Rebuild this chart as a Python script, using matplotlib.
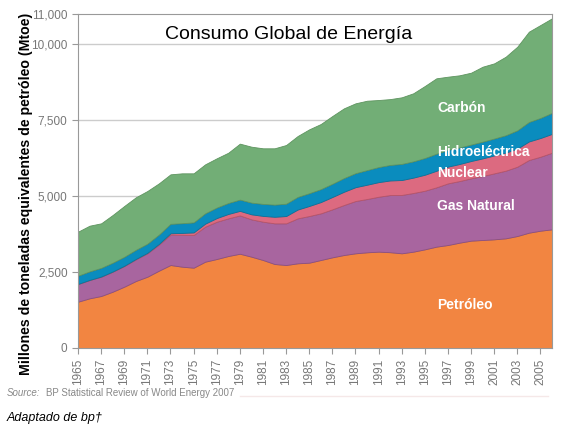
import matplotlib
matplotlib.use("Agg")
import matplotlib.pyplot as plt
import numpy as np

years = list(range(1965, 2007))

petroleo = [1523, 1634, 1710, 1852, 2017, 2203, 2345, 2543, 2729, 2674, 2641, 2839, 2927, 3025,
            3100, 3003, 2894, 2762, 2729, 2785, 2806, 2894, 2982, 3058, 3114, 3147, 3168, 3150,
            3114, 3168, 3245, 3333, 3387, 3464, 3530, 3552, 3574, 3607, 3683, 3792, 3858, 3903]
gas_natural = [582, 602, 635, 658, 679, 713, 769, 860, 1000, 1050, 1075, 1151, 1227, 1239,
               1260, 1228, 1260, 1338, 1371, 1479, 1535, 1535, 1579, 1645, 1720, 1753, 1807, 1880,
               1920, 1930, 1928, 1951, 2028, 2027, 2050, 2104, 2170, 2225, 2280, 2390, 2433, 2519]
nuclear = [2, 3, 5, 6, 8, 12, 16, 22, 45, 60, 85, 100, 120, 145,
           150, 165, 190, 215, 240, 290, 330, 370, 405, 435, 455, 470, 480, 480,
           490, 505, 525, 545, 550, 560, 570, 580, 590, 595, 595, 610, 615, 620]
hidroelectrica = [270, 280, 285, 290, 295, 300, 300, 305, 310, 320, 330, 340, 345, 360,
                  370, 385, 395, 400, 405, 415, 420, 425, 435, 450, 460, 480, 495, 510,
                  530, 535, 550, 560, 555, 545, 540, 550, 555, 570, 600, 640, 660, 690]
carbon = [1448, 1503, 1465, 1568, 1671, 1727, 1733, 1685, 1627, 1640, 1613, 1610, 1619, 1653,
          1840, 1839, 1828, 1852, 1930, 2002, 2100, 2142, 2228, 2293, 2297, 2282, 2205, 2165,
          2190, 2238, 2368, 2480, 2402, 2372, 2364, 2465, 2472, 2583, 2751, 2970, 3055, 3110]

series_labels = ["Petróleo", "Gas Natural", "Nuclear", "Hidroeléctrica", "Carbón"]
colors = ["#F28541", "#A8659F", "#DC6A80", "#0A8CBE", "#72AE76"]
edge_colors = ["#C86A30", "#8A4F83", "#B85468", "#08739C", "#5E945F"]

y_ticks = [0, 2500, 5000, 7500, 10000, 11000]
x_ticks = list(range(1965, 2006, 2))

plt.rcParams['font.family'] = ['Liberation Sans', 'DejaVu Sans']

fig = plt.figure(figsize=(5.65, 4.33), dpi=100)
ax = fig.add_axes([78/565, 1 - 348/433, 474/565, 334.5/433])

for yv in [2500, 5000, 7500, 10000]:
    ax.axhline(yv, color="#CCCCCC", lw=1.0, zorder=0)

polys = ax.stackplot(years, petroleo, gas_natural, nuclear, hidroelectrica, carbon,
                     colors=colors, zorder=2)
for p, ec in zip(polys, edge_colors):
    p.set_edgecolor(ec)
    p.set_linewidth(0.6)

ax.set_xlim(1965, 2006)
ax.set_ylim(0, 11000)
ax.set_yticks(y_ticks)
ax.set_yticklabels([f"{v:,}" for v in y_ticks])
ax.set_xticks(x_ticks)
ax.set_xticklabels([str(v) for v in x_ticks], rotation=90)
ax.tick_params(axis='both', colors="#999999", labelcolor="#777777", labelsize=8.5, length=4, width=0.8)
for s in ax.spines.values():
    s.set_color("#999999")
    s.set_linewidth(0.8)
    s.set_zorder(3)

ax.text(0.445, 0.936, "Consumo Global de Energía", transform=ax.transAxes,
        ha="center", va="center", fontsize=14, color="black")

label_x = (437 - 78) / 474
label_ys = {"Carbón": 108, "Hidroeléctrica": 152, "Nuclear": 173, "Gas Natural": 206, "Petróleo": 305}
for name, ypx in label_ys.items():
    ax.text(label_x, (348 - ypx) / 334.5, name, transform=ax.transAxes, ha="left", va="center",
            fontsize=10, fontweight="bold", color="white", zorder=5)

fig.text(26/565, 1 - 194/433, "Millones de toneladas equivalentes de petróleo (Mtoe)",
         rotation=90, ha="center", va="center", fontsize=10.2, fontweight="bold", color="black")

fig.text(7/565, 1 - 393/433, "Source:", fontstyle="italic", fontsize=7, color="#888888",
         ha="left", va="center")
fig.text(46/565, 1 - 393/433, "BP Statistical Review of World Energy 2007", fontsize=7,
         color="#888888", ha="left", va="center")
fig.add_artist(plt.Line2D([240/565, 548/565], [1 - 396/433, 1 - 396/433], color="#F5E8E8", lw=1.0))

fig.text(7/565, 1 - 418/433, "Adaptado de bp\u2020", fontstyle="italic", fontsize=9,
         color="black", ha="left", va="center")

fig.savefig("out.png", dpi=100)
